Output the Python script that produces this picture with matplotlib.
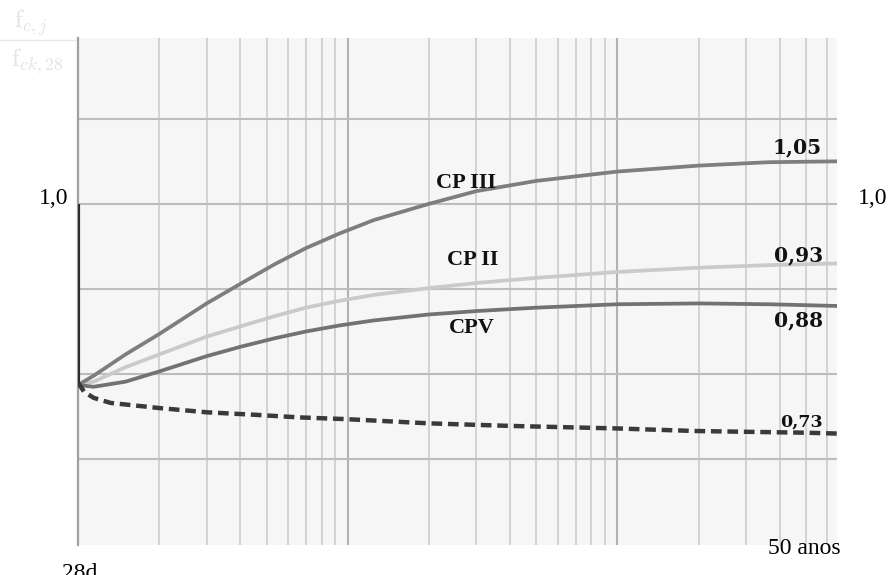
import numpy as np
import matplotlib.pyplot as plt
from matplotlib.transforms import blended_transform_factory

# idade em dias (28 dias ate 50 anos)
dias = [28, 32, 42, 56, 84, 112, 150, 196, 260, 350, 560, 840, 1400, 2800, 5600, 10200, 18250]

# resistencia relativa fc,j / fck,28 sob carga mantida
cp3 = [0.787, 0.798, 0.823, 0.847, 0.883, 0.906, 0.929, 0.948, 0.965, 0.981,
       1.000, 1.015, 1.027, 1.038, 1.045, 1.049, 1.05]
cp2 = [0.787, 0.791, 0.808, 0.823, 0.844, 0.856, 0.868, 0.878, 0.886, 0.893,
       0.901, 0.907, 0.913, 0.920, 0.925, 0.928, 0.93]
cpv = [0.787, 0.785, 0.791, 0.803, 0.821, 0.832, 0.842, 0.850, 0.857, 0.863,
       0.870, 0.874, 0.878, 0.882, 0.883, 0.882, 0.88]

# efeito Rusch (perda sob carga de longa duracao)
dias_r = [28, 29.5, 32, 37, 56, 84, 128, 185, 275, 560, 1120, 2800, 5440, 14000, 18250]
rusch = [0.79, 0.779, 0.772, 0.766, 0.760, 0.755, 0.752, 0.749, 0.747, 0.742, 0.739, 0.736, 0.733, 0.731, 0.73]

W, H = 888, 575
fig = plt.figure(figsize=(W / 100, H / 100), dpi=100)
ax = fig.add_axes([78 / W, 1 - 545 / H, (837 - 78) / W, (545 - 38) / H])
ax.set_facecolor('#f6f6f6')

ax.set_xscale('log')
ax.set_xlim(28, 18250)
ax.set_ylim(0.599, 1.195)

# grade logaritmica a partir de 28 dias
for n in range(3):
    for k in range(1, 10):
        xg = 28 * k * 10 ** n
        if 28 < xg < 18250:
            if k == 1:
                ax.axvline(xg, color='#b2b2b2', lw=1.5, zorder=1)
            else:
                ax.axvline(xg, color='#cdcdcd', lw=1.2, zorder=1)
for yg in [0.7, 0.8, 0.9, 1.0, 1.1]:
    ax.axhline(yg, color='#bdbdbd', lw=1.5, zorder=1)

ax.set_xticks([])
ax.set_yticks([])
ax.minorticks_off()
for s in ['top', 'right', 'bottom']:
    ax.spines[s].set_visible(False)
ax.spines['left'].set_color('#a0a0a0')
ax.spines['left'].set_linewidth(1.6)

ax.plot(dias, cp2, color='#cacaca', lw=2.7, zorder=3, solid_joinstyle='round')
ax.plot(dias, cpv, color='#727272', lw=2.7, zorder=3, solid_joinstyle='round')
ax.plot(dias, cp3, color='#7e7e7e', lw=2.7, zorder=3, solid_joinstyle='round')
ax.plot(dias_r, rusch, color='#3a3a3a', lw=3.2, dashes=(2.4, 1.3), zorder=4)
ax.plot([28, 28], [1.0, rusch[0]], color='#2e2e2e', lw=3.0, zorder=5,
        solid_capstyle='butt')


def fmt(v):
    return f'{v:.2f}'.replace('.', ',')


num = dict(family='DejaVu Serif', fontweight='bold', ha='right', va='center',
           textcoords='offset pixels', color='#111111')
ax.annotate(fmt(cp3[-1]), (dias[-1], cp3[-1]), xytext=(-15, 14), fontsize=14.5, **num)
ax.annotate(fmt(cp2[-1]), (dias[-1], cp2[-1]), xytext=(-14, 8), fontsize=14.5, **num)
ax.annotate(fmt(cpv[-1]), (dias[-1], cpv[-1]), xytext=(-14, -14), fontsize=14.5, **num)
ax.annotate(fmt(rusch[-1]), (dias_r[-1], rusch[-1]), xytext=(-14, 11), fontsize=12.5, **num)

serif = 'Liberation Serif'


def px(x, y):
    return x / W, 1 - y / H


fig.text(*px(466, 183), 'CP III', family=serif, fontweight='bold', fontsize=16,
         ha='center', va='center', color='#111111')
fig.text(*px(473, 260), 'CP II', family=serif, fontweight='bold', fontsize=16,
         ha='center', va='center', color='#111111')
fig.text(*px(472, 328), 'CPV', family=serif, fontweight='bold', fontsize=16,
         ha='center', va='center', color='#111111')

tr = blended_transform_factory(ax.transAxes, ax.transData)
ax.text(-0.013, 1.006, '1,0', transform=tr, family=serif, fontsize=17,
        ha='right', va='center')
ax.text(1.028, 1.006, '1,0', transform=tr, family=serif, fontsize=17,
        ha='left', va='center')

fig.text(*px(80, 563), '28d', family=serif, fontsize=17, ha='center', va='top')
fig.text(*px(841, 548), '50 anos', family=serif, fontsize=17, ha='right', va='center')

# titulo do eixo y, quase apagado
plt.rcParams['mathtext.fontset'] = 'cm'
fig.text(*px(31, 23), r'$\mathrm{f}_{c,j}$', fontsize=18, color='#e2e2e2',
         ha='center', va='center')
fig.add_artist(plt.Line2D([0, 75 / W], [1 - 40 / H, 1 - 40 / H], color='#e8e8e8', lw=1))
fig.text(*px(37, 61), r'$\mathrm{f}_{ck,28}$', fontsize=18, color='#e2e2e2',
         ha='center', va='center')

fig.savefig('out.png', dpi=100)
